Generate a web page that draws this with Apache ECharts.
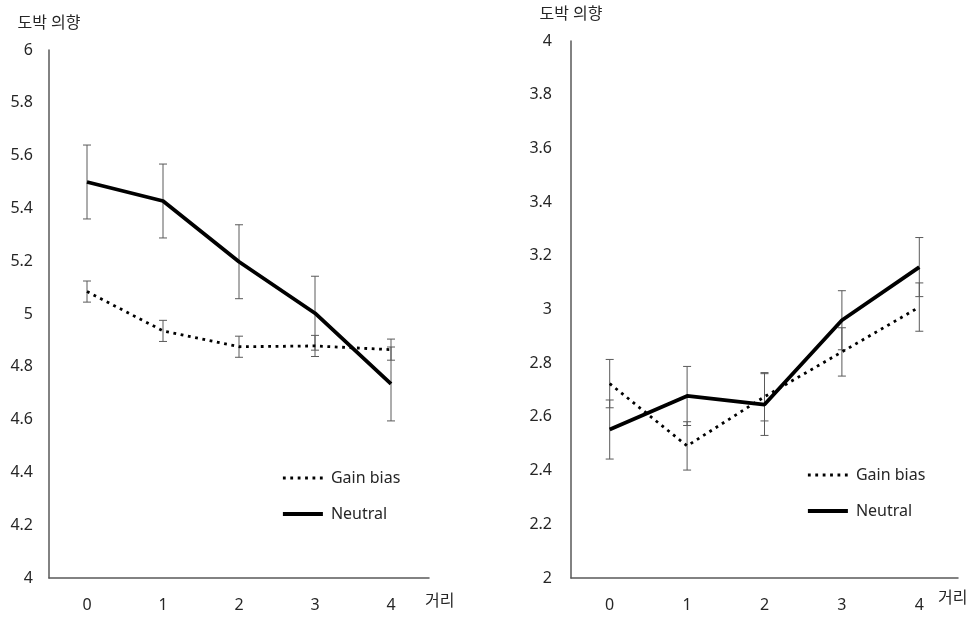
<!DOCTYPE html>
<html>
<head>
<meta charset="utf-8">
<script src="https://cdn.jsdelivr.net/npm/echarts@6/dist/echarts.min.js"></script>
<style>html,body{margin:0;padding:0;background:#fff;}#chart{width:978px;height:618px;}</style>
</head>
<body>
<div id="chart"></div>
<script>
const categories = ['0', '1', '2', '3', '4'];
const seriesNames = ['Gain bias', 'Neutral'];
const yTitle = '도박 의향';
const xTitle = '거리';

// Left panel
const leftGain = [5.085, 4.936, 4.876, 4.879, 4.865];
const leftGainErr = [0.04, 0.04, 0.04, 0.04, 0.04];
const leftNeutral = [5.50, 5.428, 5.198, 5.003, 4.735];
const leftNeutralErr = [0.14, 0.14, 0.14, 0.14, 0.14];
const leftYRange = [4, 6, 0.2];

// Right panel
const rightGain = [2.724, 2.492, 2.675, 2.842, 3.009];
const rightGainErr = [0.09, 0.09, 0.09, 0.09, 0.09];
const rightNeutral = [2.553, 2.678, 2.646, 2.96, 3.158];
const rightNeutralErr = [0.11, 0.11, 0.115, 0.11, 0.11];
const rightYRange = [2, 4, 0.2];

const FONT = "'Noto Sans', 'Noto Sans CJK KR', sans-serif";
const TEXT = '#262626';
const AXIS = '#595959';

function errData(means, errs) {
  return means.map((m, i) => [i, m - errs[i], m + errs[i]]);
}
function errRender(params, api) {
  const x = api.value(0);
  const lo = api.coord([x, api.value(1)]);
  const hi = api.coord([x, api.value(2)]);
  const w = 4;
  const st = { stroke: '#5a5a5a', lineWidth: 1 };
  return {
    type: 'group',
    children: [
      { type: 'line', shape: { x1: hi[0], y1: hi[1], x2: lo[0], y2: lo[1] }, style: st },
      { type: 'line', shape: { x1: hi[0] - w, y1: hi[1], x2: hi[0] + w, y2: hi[1] }, style: st },
      { type: 'line', shape: { x1: lo[0] - w, y1: lo[1], x2: lo[0] + w, y2: lo[1] }, style: st }
    ]
  };
}

const dotted = { color: '#000', width: 2.8, type: [2.8, 4.6] };
const solid = { color: '#000', width: 3.8, type: 'solid' };

function xAxis(gridIndex, nameGap, namePad) {
  return {
    type: 'category', gridIndex, data: categories, boundaryGap: true,
    name: xTitle, nameLocation: 'end', nameGap,
    nameTextStyle: { fontFamily: FONT, fontSize: 16, color: TEXT, verticalAlign: 'top', padding: namePad },
    axisLine: { lineStyle: { color: AXIS, width: 1.5 } },
    axisTick: { show: false },
    axisLabel: { fontFamily: FONT, fontSize: 16, color: TEXT, margin: 19 }
  };
}
function yAxis(gridIndex, range, labelMargin) {
  return {
    type: 'value', gridIndex, min: range[0], max: range[1], interval: range[2],
    name: yTitle, nameLocation: 'end', nameGap: 19,
    nameTextStyle: { fontFamily: FONT, fontSize: 16, color: TEXT, align: 'center' },
    axisLine: { show: true, lineStyle: { color: AXIS, width: 1.5 } },
    axisTick: { show: false },
    splitLine: { show: false },
    axisLabel: { fontFamily: FONT, fontSize: 16, color: TEXT, margin: labelMargin }
  };
}
function legend(left, top) {
  return {
    left, top, orient: 'vertical', itemWidth: 40, itemHeight: 14, itemGap: 20,
    data: [
      { name: seriesNames[0], lineStyle: dotted },
      { name: seriesNames[1], lineStyle: solid }
    ],
    selectedMode: false,
    itemStyle: { opacity: 0 },
    textStyle: { fontFamily: FONT, fontSize: 16, color: TEXT, padding: [0, 0, 0, 3] }
  };
}

const chart = echarts.init(document.getElementById('chart'), null, { renderer: 'canvas' });
chart.setOption({
  animation: false,
  backgroundColor: '#fff',
  grid: [
    { left: 49, top: 50, width: 380, height: 528 },
    { left: 571, top: 41, width: 387, height: 537 }
  ],
  xAxis: [xAxis(0, -4, [15, 0, 0, 0]), xAxis(1, -20, [12, 0, 0, 0])],
  yAxis: [yAxis(0, leftYRange, 16), yAxis(1, rightYRange, 19)],
  legend: [legend(276, 465), legend(801, 462)],
  series: [
    { type: 'custom', xAxisIndex: 0, yAxisIndex: 0, renderItem: errRender, data: errData(leftGain, leftGainErr), z: 1, silent: true },
    { type: 'custom', xAxisIndex: 0, yAxisIndex: 0, renderItem: errRender, data: errData(leftNeutral, leftNeutralErr), z: 1, silent: true },
    { type: 'custom', xAxisIndex: 1, yAxisIndex: 1, renderItem: errRender, data: errData(rightGain, rightGainErr), z: 1, silent: true },
    { type: 'custom', xAxisIndex: 1, yAxisIndex: 1, renderItem: errRender, data: errData(rightNeutral, rightNeutralErr), z: 1, silent: true },
    { name: 'Gain bias', type: 'line', xAxisIndex: 0, yAxisIndex: 0, data: leftGain, symbol: 'none', lineStyle: dotted, itemStyle: { color: '#000' }, z: 3 },
    { name: 'Neutral', type: 'line', xAxisIndex: 0, yAxisIndex: 0, data: leftNeutral, symbol: 'none', lineStyle: solid, itemStyle: { color: '#000' }, z: 3 },
    { name: 'Gain bias', type: 'line', xAxisIndex: 1, yAxisIndex: 1, data: rightGain, symbol: 'none', lineStyle: dotted, itemStyle: { color: '#000' }, z: 3 },
    { name: 'Neutral', type: 'line', xAxisIndex: 1, yAxisIndex: 1, data: rightNeutral, symbol: 'none', lineStyle: solid, itemStyle: { color: '#000' }, z: 3 }
  ]
});
</script>
</body>
</html>
